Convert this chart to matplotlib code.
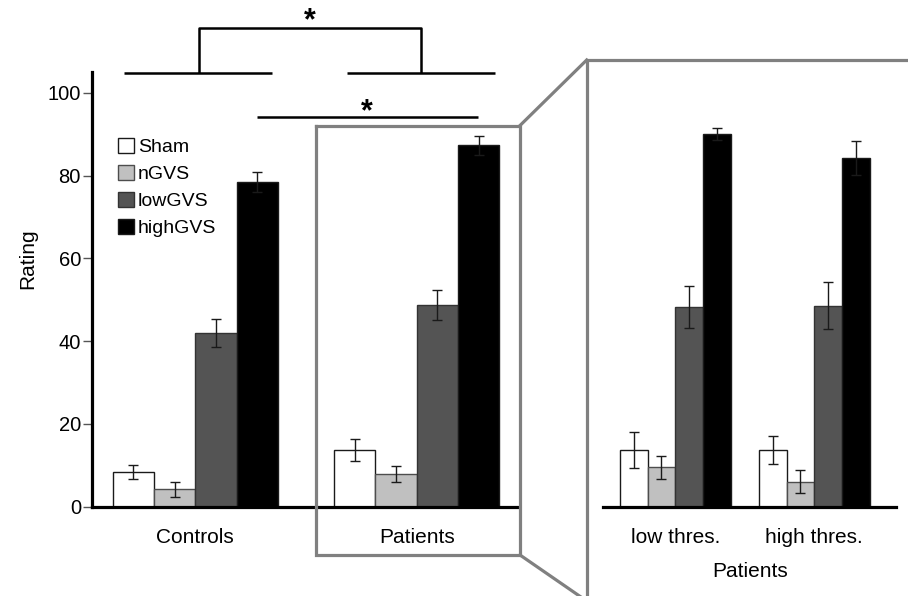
import numpy as np
import matplotlib.pyplot as plt
from matplotlib.patches import Patch

plt.rcParams['font.family'] = ['Liberation Sans', 'DejaVu Sans']

# conditions and bar styles
conditions = ["Sham", "nGVS", "lowGVS", "highGVS"]
fill_colors = ["white", "#c0c0c0", "#545454", "black"]
edge_colors = ["#1a1a1a", "#4d4d4d", "#333333", "#1a1a1a"]

# left panel: group means / SEM
groups_left = ["Controls", "Patients"]
controls_mean = [8.4, 4.2, 42.0, 78.5]
controls_err = [1.7, 1.8, 3.4, 2.5]
patients_mean = [13.7, 7.9, 48.7, 87.3]
patients_err = [2.6, 2.0, 3.7, 2.3]

# right panel: patients split by threshold
groups_right = ["low thres.", "high thres."]
lowthr_mean = [13.7, 9.5, 48.2, 90.1]
lowthr_err = [4.3, 2.8, 5.1, 1.5]
highthr_mean = [13.7, 6.0, 48.6, 84.3]
highthr_err = [3.4, 2.8, 5.6, 4.1]

yticks = [0, 20, 40, 60, 80, 100]

W, H = 908, 596
fig = plt.figure(figsize=(W / 100, H / 100), dpi=100)


def draw_group(ax, center, means, errs):
    offsets = np.arange(len(means)) - 1.5
    for i in range(len(means)):
        ax.bar(center + offsets[i], means[i], width=1.0, color=fill_colors[i],
               edgecolor=edge_colors[i], linewidth=1.0, yerr=errs[i], capsize=3.4,
               error_kw=dict(ecolor="#1a1a1a", elinewidth=1.0, capthick=1.0))


def style_axes(ax):
    ax.set_ylim(0, 105)
    for s in ["top", "right"]:
        ax.spines[s].set_visible(False)
    ax.spines["bottom"].set_linewidth(2.3)
    ax.spines["left"].set_linewidth(2.3)
    ax.tick_params(axis="x", length=0, pad=15.5, labelsize=15)


bottom = (H - 506.5) / H
height = 434.2 / H

# ---- left panel
ax1 = fig.add_axes([92 / W, bottom, 426 / W, height])
pos_left = [0, 5.36]
draw_group(ax1, pos_left[0], controls_mean, controls_err)
draw_group(ax1, pos_left[1], patients_mean, patients_err)
style_axes(ax1)
ax1.set_xlim(-2.5, 7.81)
ax1.set_xticks(pos_left)
ax1.set_xticklabels(groups_left)
ax1.set_yticks(yticks)
ax1.tick_params(axis="y", length=6.5, width=1.0, color="#555555", pad=1.5, labelsize=14.5)
ax1.set_ylabel("Rating", fontsize=15)
ax1.yaxis.set_label_coords(-0.128, 0.57)

handles = [Patch(facecolor=c, edgecolor=e, linewidth=1.0) for c, e in zip(fill_colors, edge_colors)]
ax1.legend(handles, conditions, loc="upper left", bbox_to_anchor=(0.061, 0.848),
           frameon=False, fontsize=14, handlelength=0.8, handleheight=0.8,
           handletextpad=0.22, labelspacing=0.45, borderpad=0, borderaxespad=0)

# significance brackets
kw = dict(color="black", lw=1.8, clip_on=False, solid_capstyle="butt")
ax1.plot([-1.73, 1.86], [104.8, 104.8], **kw)
ax1.plot([3.67, 7.25], [104.8, 104.8], **kw)
ax1.plot([0.09, 0.09, 5.47, 5.47], [104.8, 115.7, 115.7, 104.8], **kw)
ax1.plot([1.5, 6.85], [94.3, 94.3], **kw)
ax1.text(2.78, 115.4, "*", ha="center", va="baseline", fontsize=22, fontweight="bold")
ax1.text(4.15, 93.3, "*", ha="center", va="baseline", fontsize=22, fontweight="bold")

# ---- right panel
ax2 = fig.add_axes([603.3 / W, bottom, 292.7 / W, height])
pos_right = [0, 5.02]
draw_group(ax2, pos_right[0], lowthr_mean, lowthr_err)
draw_group(ax2, pos_right[1], highthr_mean, highthr_err)
style_axes(ax2)
ax2.spines["left"].set_visible(False)
ax2.set_xlim(-2.6, 7.97)
ax2.set_yticks([])
ax2.set_xticks(pos_right)
ax2.set_xticklabels(groups_right)
ax2.set_xlabel("Patients", fontsize=15, labelpad=11)

# ---- zoom box and connectors (pixel coordinates)
ov = fig.add_axes([0, 0, 1, 1])
ov.set_xlim(0, W)
ov.set_ylim(H, 0)
ov.axis("off")
gk = dict(color="#808080", lw=2.3, solid_joinstyle="miter")
ov.plot([316, 520, 520, 316, 316], [125.5, 125.5, 555, 555, 125.5], **gk)
ov.plot([520, 586.7], [125.5, 60], **gk)
ov.plot([520, 586.7], [555, 601], **gk)
ov.plot([586.7, 586.7, 920], [610, 60, 60], **gk)

fig.savefig("out.png", dpi=100)
